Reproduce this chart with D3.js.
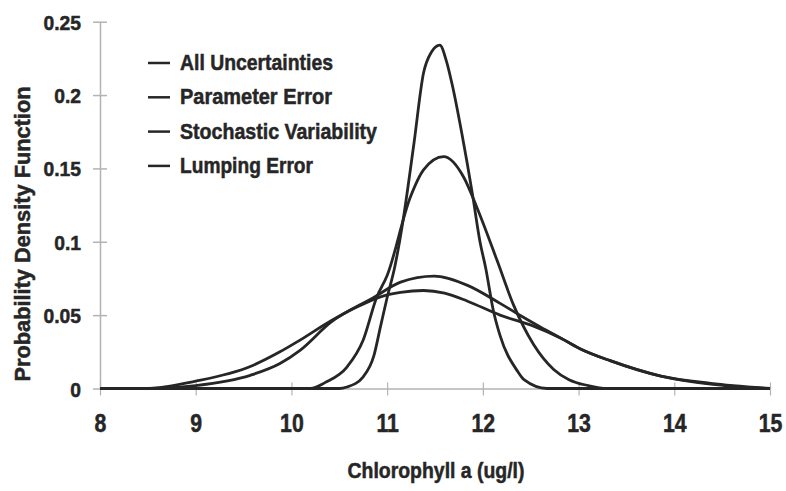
<!DOCTYPE html>
<html>
<head>
<meta charset="utf-8">
<script src="https://cdn.jsdelivr.net/npm/d3@7/dist/d3.min.js"></script>
<style>
  body { margin: 0; background: #fff; }
  svg { display: block; }
</style>
</head>
<body>
<div id="chart"></div>
<script>
// values, [chlorophyll, density]
var allUncertainties = [[8,0],[8.5,0],[9.0,0.005],[9.57,0.015],[9.88,0.025],[10.09,0.033],[10.41,0.046],
    [10.7,0.056],[10.93,0.0625],[11.14,0.0655],[11.38,0.0668],[11.6,0.065],[11.84,0.0595],[12.18,0.05],
    [12.53,0.0425],[12.81,0.0345],[13.02,0.027],[13.33,0.019],[13.86,0.0085],[14.38,0.0035],[15,0]];
var parameterError = [[8,0],[8.5,0],[9.0,0.002],[9.57,0.009],[9.88,0.017],[10.09,0.026],[10.41,0.045],
    [10.86,0.062],[11.14,0.0725],[11.49,0.0766],[11.84,0.0703],[12.18,0.058],[12.36,0.051],[12.6,0.042],
    [12.81,0.0345],[13.02,0.027],[13.33,0.019],[13.86,0.0085],[14.38,0.003],[15,0]];
var stochasticVariability = [[8,0],[10.2,0],[10.35,0.004],[10.58,0.0146],[10.75,0.033],[10.89,0.062],
    [11.0,0.077],[11.24,0.13],[11.38,0.149],[11.59,0.158],[11.8,0.144],[11.94,0.123],[12.15,0.087],
    [12.32,0.057],[12.53,0.03],[12.74,0.013],[12.9,0.006],[13.1,0.002],[13.3,0],[15,0]];
var lumpingError = [[8,0],[10.5,0],[10.58,0.001],[10.75,0.008],[10.86,0.022],[10.93,0.042],[11.0,0.062],
    [11.08,0.083],[11.16,0.112],[11.28,0.167],[11.38,0.215],[11.46,0.229],[11.55,0.234],[11.62,0.223],
    [11.68,0.207],[11.78,0.174],[11.89,0.133],[11.97,0.1],[12.03,0.082],[12.11,0.053],[12.18,0.036],
    [12.36,0.012],[12.43,0.006],[12.67,0],[15,0]];

var seriesNames = ["All Uncertainties", "Parameter Error", "Stochastic Variability", "Lumping Error"];
var seriesData = [allUncertainties, parameterError, stochasticVariability, lumpingError];
var legendWidths = [153, 152, 197, 133];

var xTicks = [8, 9, 10, 11, 12, 13, 14, 15];
var yTicks = [0, 0.05, 0.1, 0.15, 0.2, 0.25];
var yTickLabels = ["0", "0.05", "0.1", "0.15", "0.2", "0.25"];

var width = 786,
    height = 491;

var svg = d3.select("#chart")
    .append("svg")
    .attr("width", width)
    .attr("height", height);

var x = d3.scaleLinear().domain([8, 15]).range([100, 770]);
var y = d3.scaleLinear().domain([0, 0.25]).range([388.5, 21.7]);

var axisGrey = "#b3b3b3";
var ink = "#262626";
var font = "'Liberation Sans', Arial, sans-serif";

function heavy(sel, size) {
    sel.style("font-family", font)
        .style("font-size", size + "px")
        .style("font-weight", 700)
        .style("fill", ink)
        .style("stroke", ink)
        .style("stroke-width", 0.5);
}

// y axis, ticks cross the line
var yAxis = svg.append("g")
    .attr("transform", "translate(100,0)")
    .call(d3.axisLeft(y).tickValues(yTicks).tickSize(7).tickSizeOuter(0)
        .tickFormat(function(d, i) { return yTickLabels[i]; }));
yAxis.select(".domain").attr("stroke", axisGrey).attr("stroke-width", 1.5);
yAxis.selectAll(".tick line").attr("stroke", axisGrey).attr("stroke-width", 1.5).attr("x1", 7);
yAxis.selectAll(".tick text")
    .attr("x", null).attr("dy", "0.36em")
    .attr("transform", "translate(-19,0) scale(0.92,1)")
    .call(heavy, 21);

// x axis
var xAxis = svg.append("g")
    .attr("transform", "translate(0,388.5)")
    .call(d3.axisBottom(x).tickValues(xTicks).tickSize(7).tickSizeOuter(0).tickFormat(d3.format("d")));
xAxis.select(".domain").attr("stroke", axisGrey).attr("stroke-width", 1.5);
xAxis.selectAll(".tick line").attr("stroke", axisGrey).attr("stroke-width", 1.2).attr("y1", -6);
xAxis.selectAll(".tick text")
    .attr("y", 43.5).attr("dy", 0)
    .attr("transform", "scale(0.85,1)")
    .call(heavy, 25);

// curves
var line = d3.line()
    .x(function(d) { return x(d[0]); })
    .y(function(d) { return y(d[1]); })
    .curve(d3.curveMonotoneX);

svg.append("g").selectAll("path")
    .data(seriesData)
    .enter().append("path")
    .attr("d", line)
    .style("fill", "none")
    .style("stroke", ink)
    .style("stroke-width", 2.8)
    .style("stroke-linejoin", "round");

// legend
var legend = svg.append("g").selectAll("g")
    .data(seriesNames)
    .enter().append("g")
    .attr("transform", function(d, i) { return "translate(148," + (70 + i * 34.3) + ")"; });

legend.append("line")
    .attr("x1", 0).attr("x2", 22)
    .attr("y1", -7).attr("y2", -7)
    .style("stroke", ink)
    .style("stroke-width", 2.5);

legend.append("text")
    .attr("x", 32)
    .attr("textLength", function(d, i) { return legendWidths[i]; })
    .attr("lengthAdjust", "spacingAndGlyphs")
    .call(heavy, 22)
    .text(function(d) { return d; });

// axis titles
svg.append("text")
    .attr("x", 436)
    .attr("y", 478)
    .attr("text-anchor", "middle")
    .attr("textLength", 177)
    .attr("lengthAdjust", "spacingAndGlyphs")
    .call(heavy, 22)
    .text("Chlorophyll a (ug/l)");

svg.append("text")
    .attr("transform", "translate(30,234) rotate(-90)")
    .attr("text-anchor", "middle")
    .attr("textLength", 295)
    .attr("lengthAdjust", "spacingAndGlyphs")
    .call(heavy, 22)
    .text("Probability Density Function");
</script>
</body>
</html>
